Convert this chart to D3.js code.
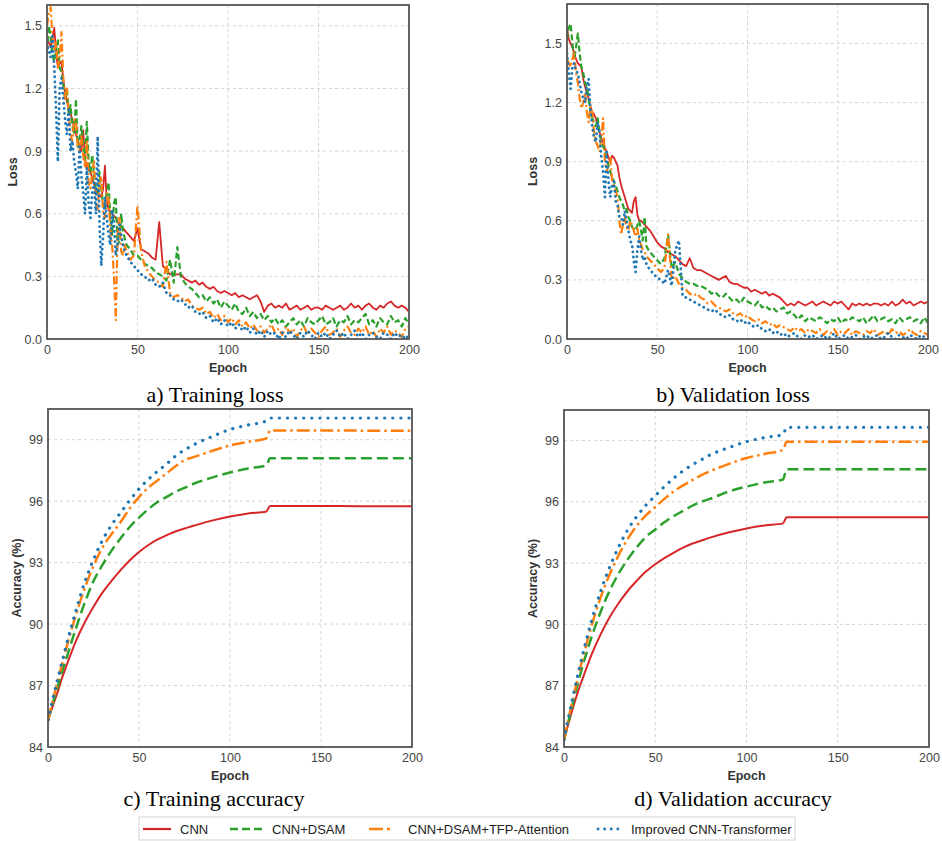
<!DOCTYPE html>
<html><head><meta charset="utf-8">
<script src="https://cdn.jsdelivr.net/npm/d3@7"></script>
<style>
body{margin:0;background:#fff;}
svg text{font-family:"Liberation Sans",Arial,sans-serif;}
</style></head><body>
<svg id="chart" width="942" height="841"></svg>
<script>
// Model names and colours
const seriesNames = ["CNN", "CNN+DSAM", "CNN+DSAM+TFP-Attention", "Improved CNN-Transformer"];
const seriesColors = ["#d62728", "#2ca02c", "#ff7f0e", "#1f77b4"];

// Loss curves: every epoch for 0..44, then every 2 epochs for 46..200
const lossEpochs = d3.range(0, 45).concat(d3.range(46, 201, 2));

const trainLossCNN = [1.45,1.42,1.40,1.44,1.49,1.38,1.30,1.32,1.33,1.24,1.18,1.14,1.10,1.08,1.05,1.01,0.98,0.95,0.92,0.90,1.00,0.86,0.82,0.81,0.80,0.77,0.74,0.72,0.70,0.69,0.68,0.72,0.83,0.66,0.62,0.61,0.60,0.59,0.58,0.56,0.55,0.54,0.53,0.52,0.51,
  0.49,0.47,0.53,0.43,0.42,0.41,0.39,0.38,0.56,0.35,0.33,0.31,0.31,0.31,0.31,0.29,0.28,0.27,0.28,0.26,0.27,0.25,0.24,0.25,0.23,0.22,0.23,0.22,0.21,0.22,0.20,0.21,0.20,0.19,0.20,0.21,0.18,0.13,0.16,0.17,0.15,0.16,0.15,0.17,0.14,0.15,0.16,0.14,0.15,0.16,0.14,0.15,0.15,0.14,0.16,0.15,0.14,0.15,0.16,0.14,0.15,0.17,0.15,0.16,0.14,0.16,0.17,0.15,0.14,0.16,0.15,0.17,0.18,0.16,0.15,0.16,0.15,0.13];
const trainLossDSAM = [1.38,1.50,1.45,1.36,1.33,1.40,1.43,1.30,1.28,1.22,1.15,1.20,1.08,1.12,1.02,0.98,1.15,0.92,0.95,1.02,0.92,0.86,1.04,0.85,0.80,0.88,0.78,0.72,0.70,0.80,0.72,0.64,0.62,0.70,0.75,0.58,0.50,0.65,0.68,0.45,0.47,0.60,0.52,0.48,0.45,
  0.43,0.40,0.40,0.38,0.36,0.35,0.34,0.32,0.31,0.30,0.28,0.38,0.27,0.44,0.30,0.27,0.25,0.24,0.22,0.20,0.21,0.18,0.20,0.17,0.19,0.15,0.18,0.16,0.14,0.17,0.13,0.12,0.15,0.11,0.13,0.10,0.12,0.09,0.11,0.08,0.10,0.07,0.09,0.06,0.08,0.10,0.07,0.09,0.06,0.10,0.08,0.07,0.09,0.11,0.07,0.08,0.10,0.06,0.09,0.08,0.11,0.07,0.09,0.08,0.10,0.12,0.07,0.09,0.06,0.10,0.08,0.07,0.11,0.08,0.09,0.06,0.10,0.07];
const trainLossTFP = [1.50,1.55,1.59,1.45,1.38,1.42,1.30,1.35,1.47,1.25,1.15,1.20,1.08,0.98,0.95,1.05,1.05,0.92,0.90,0.98,0.88,0.82,0.95,0.75,0.72,0.80,0.85,0.65,0.62,0.75,0.78,0.60,0.58,0.70,0.68,0.52,0.45,0.30,0.09,0.50,0.58,0.42,0.40,0.45,0.42,
  0.38,0.40,0.64,0.42,0.35,0.32,0.30,0.28,0.27,0.25,0.37,0.22,0.20,0.21,0.20,0.18,0.19,0.16,0.15,0.14,0.15,0.12,0.13,0.10,0.12,0.09,0.11,0.08,0.10,0.07,0.09,0.06,0.08,0.05,0.07,0.04,0.06,0.03,0.05,0.07,0.03,0.05,0.02,0.06,0.03,0.05,0.01,0.04,0.06,0.02,0.05,0.03,0.01,0.04,0.06,0.02,0.03,0.05,0.01,0.04,0.06,0.03,0.02,0.05,0.03,0.06,0.02,0.04,0.01,0.05,0.03,0.06,0.02,0.04,0.03,0.01,0.05,0.06];
const trainLossImproved = [1.42,1.38,1.35,1.45,1.30,1.10,0.85,1.20,1.25,1.15,1.05,0.98,1.10,0.90,0.95,0.85,0.80,0.72,0.92,0.78,0.70,0.60,0.82,0.65,0.58,0.70,0.75,0.60,0.97,0.55,0.35,0.50,0.68,0.58,0.50,0.45,0.62,0.55,0.40,0.45,0.55,0.50,0.45,0.42,0.40,
  0.37,0.35,0.33,0.31,0.30,0.28,0.29,0.26,0.25,0.27,0.22,0.21,0.19,0.18,0.19,0.17,0.15,0.16,0.13,0.12,0.13,0.10,0.11,0.08,0.10,0.07,0.09,0.06,0.08,0.05,0.07,0.04,0.06,0.03,0.05,0.02,0.04,0.01,0.04,0.02,0.03,0.00,0.03,0.01,0.04,0.02,0.00,0.03,0.01,0.04,0.02,0.00,0.03,0.01,0.03,0.00,0.02,0.04,0.01,0.03,0.00,0.02,0.04,0.01,0.03,0.00,0.02,0.03,0.01,0.00,0.03,0.02,0.00,0.03,0.01,0.02,0.00,0.02];

const valLossCNN = [1.58,1.52,1.50,1.48,1.45,1.42,1.40,1.39,1.38,1.32,1.28,1.25,1.22,1.18,1.15,1.14,1.12,1.08,1.05,1.02,1.00,0.97,0.95,0.92,0.90,0.93,0.92,0.90,0.88,0.82,0.78,0.75,0.72,0.69,0.66,0.65,0.64,0.70,0.72,0.63,0.60,0.60,0.59,0.58,0.57,
  0.55,0.52,0.49,0.47,0.46,0.44,0.43,0.42,0.40,0.38,0.37,0.41,0.36,0.35,0.35,0.34,0.33,0.32,0.31,0.30,0.31,0.32,0.29,0.28,0.28,0.27,0.26,0.26,0.24,0.25,0.24,0.23,0.24,0.22,0.23,0.22,0.21,0.19,0.17,0.18,0.17,0.19,0.18,0.17,0.18,0.19,0.17,0.18,0.19,0.18,0.17,0.19,0.18,0.19,0.17,0.15,0.18,0.17,0.18,0.17,0.18,0.17,0.18,0.18,0.17,0.18,0.17,0.19,0.17,0.18,0.20,0.18,0.19,0.17,0.18,0.19,0.18,0.19];
const valLossDSAM = [1.52,1.58,1.60,1.50,1.42,1.48,1.55,1.45,1.38,1.35,1.30,1.28,1.22,1.15,1.12,1.10,1.08,1.12,1.05,1.00,0.98,0.95,0.92,0.88,0.85,0.82,0.80,0.78,0.75,0.72,0.70,0.68,0.65,0.66,0.62,0.60,0.57,0.56,0.55,0.58,0.60,0.55,0.50,0.62,0.47,
  0.44,0.42,0.40,0.38,0.41,0.53,0.36,0.39,0.33,0.31,0.29,0.28,0.28,0.27,0.27,0.26,0.25,0.23,0.24,0.22,0.21,0.23,0.21,0.19,0.20,0.18,0.21,0.19,0.18,0.17,0.19,0.16,0.17,0.15,0.16,0.14,0.15,0.16,0.13,0.14,0.12,0.10,0.12,0.09,0.11,0.10,0.09,0.11,0.10,0.08,0.10,0.09,0.11,0.08,0.10,0.09,0.11,0.10,0.09,0.11,0.08,0.10,0.12,0.09,0.10,0.11,0.09,0.10,0.08,0.11,0.09,0.10,0.11,0.09,0.10,0.08,0.11,0.08];
const valLossTFP = [1.42,1.40,1.38,1.42,1.45,1.35,1.30,1.22,1.17,1.20,1.25,1.15,1.10,1.18,1.15,1.05,1.00,0.98,0.95,1.02,1.12,0.90,0.85,0.88,0.92,0.80,0.78,0.75,0.72,0.60,0.53,0.58,0.62,0.57,0.55,0.60,0.58,0.55,0.52,0.56,0.50,0.48,0.45,0.44,0.42,
  0.40,0.38,0.36,0.34,0.36,0.53,0.30,0.32,0.28,0.26,0.25,0.23,0.22,0.23,0.21,0.20,0.18,0.19,0.17,0.16,0.15,0.14,0.15,0.13,0.12,0.13,0.11,0.12,0.10,0.09,0.10,0.08,0.09,0.07,0.08,0.06,0.07,0.06,0.05,0.04,0.06,0.04,0.05,0.03,0.05,0.04,0.03,0.05,0.02,0.04,0.03,0.05,0.02,0.04,0.03,0.05,0.02,0.04,0.03,0.02,0.04,0.03,0.05,0.02,0.03,0.04,0.02,0.05,0.03,0.04,0.02,0.03,0.05,0.03,0.02,0.04,0.03,0.02];
const valLossImproved = [1.45,1.35,1.27,1.38,1.40,1.36,1.35,1.30,1.25,1.22,1.20,1.28,1.32,1.15,1.08,1.02,1.00,1.10,1.05,0.92,0.85,0.72,0.95,0.80,0.72,0.78,0.80,0.70,0.68,0.62,0.62,0.58,0.65,0.60,0.55,0.50,0.48,0.40,0.34,0.45,0.52,0.45,0.40,0.42,0.38,
  0.35,0.33,0.31,0.30,0.28,0.35,0.27,0.45,0.50,0.22,0.21,0.20,0.19,0.18,0.17,0.16,0.15,0.14,0.15,0.13,0.12,0.11,0.12,0.10,0.09,0.10,0.08,0.09,0.07,0.06,0.07,0.05,0.04,0.05,0.03,0.04,0.02,0.03,0.01,0.02,0.03,0.01,0.00,0.02,0.01,0.02,0.00,0.01,0.02,0.00,0.01,0.03,0.00,0.01,0.02,0.00,0.01,0.02,0.00,0.01,0.02,0.00,0.01,0.02,0.00,0.01,0.03,0.01,0.00,0.02,0.01,0.00,0.02,0.01,0.00,0.02,0.01,0.00];

// Accuracy curves (%), at selected epochs
const accEpochs = [0,2,5,8,10,15,20,25,30,35,40,45,50,55,60,65,70,75,80,90,100,110,120,122,140,160,180,200];

const trainAccCNN      = [85.3,85.85,86.6,87.45,87.94,89.1,90.05,90.85,91.55,92.12,92.65,93.12,93.52,93.85,94.12,94.33,94.52,94.67,94.8,95.05,95.25,95.4,95.5,95.77,95.76,95.76,95.75,95.75];
const trainAccDSAM     = [85.3,85.95,86.85,87.75,88.3,89.7,91.0,92.1,92.9,93.6,94.2,94.75,95.2,95.6,95.95,96.2,96.45,96.65,96.85,97.15,97.4,97.6,97.75,98.1,98.1,98.1,98.1,98.1];
const trainAccTFP      = [85.3,86.05,87.1,88.15,88.8,90.35,91.7,92.85,93.75,94.4,95.0,95.65,96.2,96.65,97.0,97.35,97.7,98.0,98.15,98.45,98.72,98.9,99.07,99.45,99.45,99.45,99.44,99.44];
const trainAccImproved = [85.3,86.1,87.2,88.25,88.95,90.55,92.0,93.15,94.1,94.85,95.45,96.05,96.6,97.05,97.45,97.8,98.2,98.5,98.75,99.15,99.5,99.72,99.92,100.06,100.06,100.06,100.06,100.06];

const valAccCNN      = [84.35,85.0,85.95,86.8,87.3,88.5,89.5,90.35,91.05,91.65,92.15,92.6,92.95,93.25,93.5,93.75,93.95,94.1,94.25,94.5,94.7,94.85,94.95,95.25,95.25,95.25,95.25,95.25];
const valAccDSAM     = [84.35,85.1,86.2,87.25,87.9,89.35,90.6,91.65,92.5,93.2,93.8,94.3,94.65,95.0,95.3,95.55,95.8,96.0,96.15,96.5,96.75,96.95,97.1,97.6,97.6,97.6,97.6,97.6];
const valAccTFP      = [84.35,85.2,86.4,87.55,88.25,89.9,91.3,92.45,93.4,94.2,94.85,95.35,95.75,96.15,96.5,96.8,97.05,97.3,97.5,97.85,98.15,98.35,98.55,98.95,98.95,98.95,98.95,98.95];
const valAccImproved = [84.35,85.25,86.5,87.7,88.45,90.15,91.6,92.8,93.8,94.65,95.3,95.85,96.3,96.75,97.15,97.5,97.8,98.05,98.3,98.65,98.95,99.15,99.3,99.65,99.65,99.65,99.65,99.65];

// Axis ticks
const epochTicks = [0, 50, 100, 150, 200];
const lossTicks = [0.0, 0.3, 0.6, 0.9, 1.2, 1.5];
const accTicks = [84, 87, 90, 93, 96, 99];

const svg = d3.select("#chart");

// line appearance per series, for loss panels and accuracy panels
const lossStyles = [
  {dash: null, width: 1.8, cap: "butt"},
  {dash: "6,3", width: 2.2, cap: "butt"},
  {dash: "8,3,2,3", width: 2.2, cap: "butt"},
  {dash: "0.1,5", width: 2.8, cap: "round"}
];
const accStyles = [
  {dash: null, width: 2, cap: "butt"},
  {dash: "11,5", width: 2.5, cap: "butt"},
  {dash: "13,4,2.5,4", width: 2.5, cap: "butt"},
  {dash: "0.1,8", width: 3.2, cap: "round"}
];

let clipId = 0;
function drawPanel(p) {
  const x = d3.scaleLinear().domain([0, 200]).range([p.left, p.right]);
  const y = d3.scaleLinear().domain(p.yDomain).range([p.bottom, p.top]);
  const g = svg.append("g");

  // dashed grid
  g.append("g").selectAll("line").data(epochTicks).join("line")
    .attr("x1", d => x(d)).attr("x2", d => x(d))
    .attr("y1", p.top).attr("y2", p.bottom)
    .attr("stroke", "#cfcfcf").attr("stroke-width", 0.9).attr("stroke-dasharray", "3,3");
  g.append("g").selectAll("line").data(p.yTicks).join("line")
    .attr("x1", p.left).attr("x2", p.right)
    .attr("y1", d => y(d)).attr("y2", d => y(d))
    .attr("stroke", "#cfcfcf").attr("stroke-width", 0.9).attr("stroke-dasharray", "3,3");

  // axes (labels only, no tick marks)
  const xAxis = g.append("g").attr("transform", `translate(0,${p.bottom})`)
    .call(d3.axisBottom(x).tickValues(epochTicks).tickSize(0).tickPadding(6).tickFormat(d3.format("d")));
  const yAxis = g.append("g").attr("transform", `translate(${p.left},0)`)
    .call(d3.axisLeft(y).tickValues(p.yTicks).tickSize(0).tickPadding(5).tickFormat(p.yFormat));
  [xAxis, yAxis].forEach(a => {
    a.select(".domain").remove();
    a.selectAll("text").attr("font-size", 12.5).attr("fill", "#444")
      .style("font-family", '"Liberation Sans",Arial,sans-serif');
  });

  // clipped data lines
  const id = "clip" + (clipId++);
  svg.append("clipPath").attr("id", id).append("rect")
    .attr("x", p.left).attr("y", p.top).attr("width", p.right - p.left).attr("height", p.bottom - p.top);
  const line = d3.line().x((d, i) => x(p.epochs[i])).y(d => y(d)).curve(p.curve);
  const lines = g.append("g").attr("clip-path", `url(#${id})`);
  p.series.forEach((vals, i) => {
    const s = p.styles[i];
    lines.append("path").datum(vals)
      .attr("d", line)
      .attr("fill", "none")
      .attr("stroke", seriesColors[i])
      .attr("stroke-width", s.width)
      .attr("stroke-linecap", s.cap)
      .attr("stroke-linejoin", "round")
      .attr("stroke-dasharray", s.dash);
  });

  // frame
  g.append("rect").attr("x", p.left).attr("y", p.top)
    .attr("width", p.right - p.left).attr("height", p.bottom - p.top)
    .attr("fill", "none").attr("stroke", "#555").attr("stroke-width", 1.8);

  // axis titles
  g.append("text").attr("x", (p.left + p.right) / 2).attr("y", p.bottom + 33)
    .attr("text-anchor", "middle").attr("font-size", 12.5).attr("font-weight", "bold").attr("fill", "#333")
    .text("Epoch");
  g.append("text")
    .attr("transform", `translate(${p.left - p.yTitleOffset},${(p.top + p.bottom) / 2}) rotate(-90)`)
    .attr("text-anchor", "middle").attr("dominant-baseline", "central")
    .attr("font-size", 12.5).attr("font-weight", "bold").attr("fill", "#333")
    .text(p.yTitle);

  // caption
  svg.append("text").attr("x", p.captionX).attr("y", p.captionY)
    .attr("text-anchor", "middle").attr("font-size", 22).attr("fill", "#000")
    .style("font-family", '"Liberation Serif","Times New Roman",serif')
    .text(p.caption);
}

const fmtLoss = d3.format(".1f");
const fmtAcc = d3.format("d");

drawPanel({left: 47, right: 409, top: 5, bottom: 339, yDomain: [0, 1.6], yTicks: lossTicks, yFormat: fmtLoss,
  epochs: lossEpochs, series: [trainLossCNN, trainLossDSAM, trainLossTFP, trainLossImproved],
  styles: lossStyles, curve: d3.curveLinear, yTitle: "Loss", yTitleOffset: 34,
  caption: "a) Training loss", captionX: 215, captionY: 402});
drawPanel({left: 567, right: 928, top: 4, bottom: 339, yDomain: [0, 1.7], yTicks: lossTicks, yFormat: fmtLoss,
  epochs: lossEpochs, series: [valLossCNN, valLossDSAM, valLossTFP, valLossImproved],
  styles: lossStyles, curve: d3.curveLinear, yTitle: "Loss", yTitleOffset: 34,
  caption: "b) Validation loss", captionX: 733, captionY: 402});
drawPanel({left: 48, right: 412, top: 409, bottom: 747, yDomain: [84, 100.5], yTicks: accTicks, yFormat: fmtAcc,
  epochs: accEpochs, series: [trainAccCNN, trainAccDSAM, trainAccTFP, trainAccImproved],
  styles: accStyles, curve: d3.curveMonotoneX, yTitle: "Accuracy (%)", yTitleOffset: 31,
  caption: "c) Training accuracy", captionX: 214, captionY: 806});
drawPanel({left: 564, right: 929, top: 410, bottom: 747, yDomain: [84, 100.5], yTicks: accTicks, yFormat: fmtAcc,
  epochs: accEpochs, series: [valAccCNN, valAccDSAM, valAccTFP, valAccImproved],
  styles: accStyles, curve: d3.curveMonotoneX, yTitle: "Accuracy (%)", yTitleOffset: 31,
  caption: "d) Validation accuracy", captionX: 733, captionY: 806});

// shared legend
const legendItems = [
  {lx: 143, lw: 28, tx: 180, dash: null, width: 2.2, cap: "butt"},
  {lx: 230, lw: 32, tx: 272, dash: "8,4", width: 2.4, cap: "butt"},
  {lx: 369, lw: 24, tx: 408, dash: "14,4,3,4", width: 2.4, cap: "butt"},
  {lx: 598, lw: 24, tx: 631, dash: "0.1,6.5", width: 2.8, cap: "round"}
];
const legend = svg.append("g");
legend.append("rect").attr("x", 139).attr("y", 817).attr("width", 656).attr("height", 23)
  .attr("fill", "#fff").attr("stroke", "#d4d4d4").attr("stroke-width", 1);
legendItems.forEach((it, i) => {
  legend.append("line").attr("x1", it.lx).attr("x2", it.lx + it.lw).attr("y1", 829).attr("y2", 829)
    .attr("stroke", seriesColors[i]).attr("stroke-width", it.width)
    .attr("stroke-linecap", it.cap).attr("stroke-dasharray", it.dash);
  legend.append("text").attr("x", it.tx).attr("y", 829).attr("dominant-baseline", "central")
    .attr("font-size", 13).attr("fill", "#222").text(seriesNames[i]);
});
</script>
</body></html>
